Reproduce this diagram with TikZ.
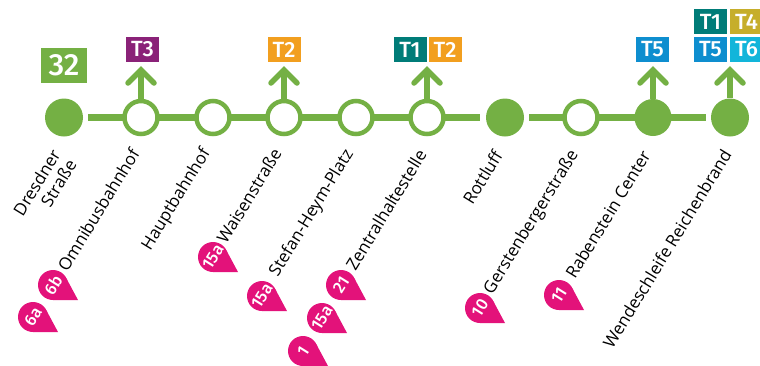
\documentclass[tikz,border=0pt]{standalone}
\usepackage{fontspec}
\setmainfont{Open Sans}
\newfontfamily\badgefont{Fira Sans Medium}
\definecolor{lgreen}{HTML}{74B044}
\definecolor{tpurple}{HTML}{8A2278}
\definecolor{torange}{HTML}{F29F1F}
\definecolor{tteal}{HTML}{007C78}
\definecolor{tblue}{HTML}{0E8ECF}
\definecolor{tyellow}{HTML}{C6AE2B}
\definecolor{tcyan}{HTML}{12B5DA}
\definecolor{pinkc}{HTML}{E3127A}
\tikzset{x=0.75pt,y=-0.75pt,
 track/.style={draw=lgreen,line width=7pt*0.75},
 openstop/.style={circle,draw=lgreen,line width=4.5pt*0.75,fill=white,minimum size=33pt*0.75,inner sep=0pt},
 fullstop/.style={circle,fill=lgreen,minimum size=38pt*0.75,inner sep=0pt},
 branch/.style={draw=lgreen,line width=5.5pt*0.75},
 chevron/.style={draw=lgreen,line width=5.5pt*0.75,line cap=round,line join=miter},
 tbadge/.style={minimum width=33pt*0.75,minimum height=25pt*0.75,inner sep=0pt,text=white,font=\badgefont\fontsize{16.5}{16.5}\selectfont},
 stoplabel/.style={rotate=58.5,anchor=east,inner sep=0pt,font=\fontsize{12.7}{14}\selectfont,align=right},
 pinktext/.style={rotate=58,text=white,inner sep=0pt,font=\badgefont\fontsize{12.5}{12.5}\selectfont}
}
\newcommand{\pinmark}[3]{% x,y of circle centre, text
 \fill[pinkc] (#1,#2) circle[radius=15];
 \fill[pinkc] (#1,#2+15) -- (#1+25,#2+15) -- (#1+13.2,#2-7) -- cycle;
 \node[pinktext] at (#1,#2) {#3};
}
\begin{document}
\begin{tikzpicture}
\useasboundingbox (0,0) rectangle (760,365);
\coordinate (e1) at (88,117.5);
\coordinate (e2) at (480,117.5);
\coordinate (e3) at (529,117.5);
\coordinate (e4) at (706,117.5);
\draw[track] (e1) -- (e2);
\draw[track] (e3) -- (e4);
\node[fullstop] (s1) at (64,117.5) {};
\node[openstop] (s2) at (141,117.5) {};
\node[openstop] (s3) at (213,117.5) {};
\node[openstop] (s4) at (284,117.5) {};
\node[openstop] (s5) at (356,117.5) {};
\node[openstop] (s6) at (427,117.5) {};
\node[fullstop] (s7) at (505,117.5) {};
\node[openstop] (s8) at (581,117.5) {};
\node[fullstop,minimum size=37pt*0.75] (s9) at (653,117.5) {};
\node[fullstop] (s10) at (730,117.5) {};
% line badge
\node[fill=lgreen,minimum width=46pt*0.75,minimum height=35pt*0.75,inner sep=0pt,text=white,font=\badgefont\fontsize{23}{23}\selectfont] (lb) at (64,65.5) {32};
% transfers
\foreach \s/\x in {s2/141,s4/284,s6/427,s9/653,s10/730}{
 \coordinate (t\s) at (\x,70);
 \draw[branch] (\s) -- (t\s);
 \draw[chevron] (\x-13,83) -- (t\s) -- (\x+13,83);
}
\node[tbadge,fill=tpurple] (b1) at (142.5,49.5) {T3};
\node[tbadge,fill=torange] (b2) at (284,49.5) {T2};
\node[tbadge,fill=tteal] (b3) at (410,49.5) {T1};
\node[tbadge,fill=torange] (b4) at (445,49.5) {T2};
\node[tbadge,fill=tblue] (b5) at (652.5,49.5) {T5};
\node[tbadge,fill=tteal] (b6) at (710.5,21.5) {T1};
\node[tbadge,fill=tyellow] (b7) at (746.5,21.5) {T4};
\node[tbadge,fill=tblue] (b8) at (710.5,49.5) {T5};
\node[tbadge,fill=tcyan] (b9) at (746.5,49.5) {T6};
% labels
\node[stoplabel] (l1) at (64,156) {Dresdner\\Straße};
\node[stoplabel] (l2) at (135,150) {Omnibusbahnhof};
\node[stoplabel] (l3) at (207,150) {Hauptbahnhof};
\node[stoplabel] (l4) at (277,150) {Waisenstraße};
\node[stoplabel] (l5) at (350,151) {Stefan-Heym-Platz};
\node[stoplabel] (l6) at (422,151) {Zentralhaltestelle};
\node[stoplabel] (l7) at (498,152) {Rottluff};
\node[stoplabel] (l8) at (575,152) {Gerstenbergerstraße};
\node[stoplabel] (l9) at (646,152) {Rabenstein Center};
\node[stoplabel] (l10) at (727,151) {Wendeschleife Reichenbrand};
% pins
\pinmark{53}{285}{6b}
\pinmark{33}{317}{6a}
\pinmark{213}{257}{15a}
\pinmark{262}{296}{15a}
\pinmark{341}{285}{21}
\pinmark{322}{318}{15a}
\pinmark{303}{351}{1}
\pinmark{480}{308}{10}
\pinmark{559}{295}{11}
\end{tikzpicture}
\end{document}
